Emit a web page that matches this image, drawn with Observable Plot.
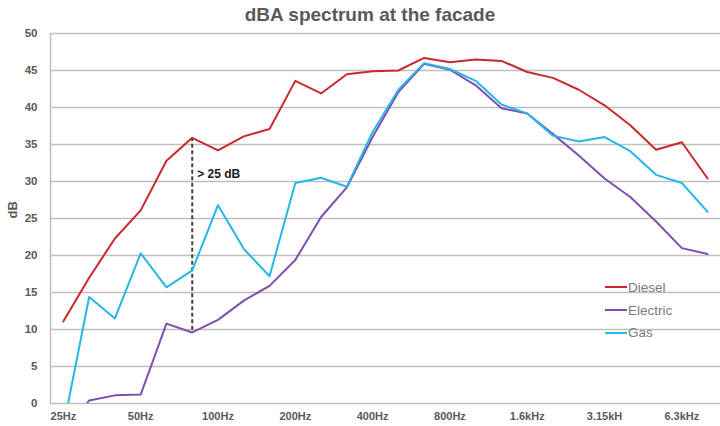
<!DOCTYPE html>
<html>
<head>
<meta charset="utf-8">
<script src="https://cdn.jsdelivr.net/npm/d3@7"></script>
<script src="https://cdn.jsdelivr.net/npm/@observablehq/plot@0.6"></script>
<style>
  body { margin: 0; background: #fff; font-family: "Liberation Sans", Arial, sans-serif; }
  #wrap { position: relative; width: 720px; height: 426px; }
  #title { position: absolute; left: 0; width: 740px; top: 4px; text-align: center; font-weight: bold; font-size: 19px; color: #595959; }
  #legend { position: absolute; left: 605px; top: 276px; font-size: 13.5px; color: #7a7a7a; }
  #legend div { display: flex; align-items: center; height: 22.7px; }
  #legend span.sw { display: inline-block; width: 22px; height: 2px; margin-right: 1px; }
</style>
</head>
<body>
<div id="wrap">
  <div id="title">dBA spectrum at the facade</div>
  <div id="chart"></div>
  <div id="legend"></div>
</div>
<script>
const bands = ["25","31.5","40","50","63","80","100","125","160","200","250","315","400","500","630","800","1000","1250","1600","2000","2500","3150","4000","5000","6300","8000"];
const tickLabels = ["25Hz","50Hz","100Hz","200Hz","400Hz","800Hz","1.6kHz","3.15kH","6.3kHz"];
const diesel = [11.1,17.0,22.3,26.1,32.8,35.9,34.2,36.1,37.1,43.6,41.9,44.5,44.9,45.0,46.7,46.1,46.5,46.3,44.8,44.0,42.4,40.3,37.6,34.3,35.3,30.4];
const electric = [-4.0,0.4,1.1,1.2,10.8,9.6,11.3,13.9,15.9,19.4,25.2,29.2,36.0,42.1,45.9,45.1,43.0,39.9,39.2,36.4,33.5,30.4,27.9,24.6,21.0,20.2];
const gas = [-3.2,14.4,11.5,20.3,15.7,18.0,26.8,20.9,17.2,29.8,30.5,29.3,36.7,42.4,46.0,45.2,43.6,40.4,39.2,36.2,35.4,36.0,34.1,30.9,29.8,25.9];
const seriesNames = ["Diesel","Electric","Gas"];
const seriesColors = ["#c8292c","#7f4fae","#25b6ea"];
const annotation = {band: 5, label: "> 25 dB", labelY: 31};

const seriesValues = [diesel, electric, gas];
const rows = [];
seriesNames.forEach((name, s) => seriesValues[s].forEach((v, i) => rows.push({series: name, i, v})));
const tickIdx = tickLabels.map((_, k) => k * 3);

const gridColor = "#bfbfbf";
const plot = Plot.plot({
  width: 720,
  height: 426,
  marginTop: 33,
  marginBottom: 23,
  marginLeft: 50,
  marginRight: 0,
  style: {fontFamily: "Liberation Sans, Arial, sans-serif", background: "#fff"},
  x: {type: "linear", domain: [-0.5, bands.length - 0.5]},
  y: {domain: [0, 50]},
  color: {domain: seriesNames, range: seriesColors},
  marks: [
    Plot.gridY(d3.range(0, 51, 5), {stroke: gridColor, strokeOpacity: 1, strokeWidth: 1.5}),
    Plot.ruleX([-0.5], {stroke: gridColor, strokeWidth: 1.5}),
    Plot.axisY(d3.range(0, 51, 5), {tickSize: 0, tickPadding: 13, fontSize: 11.5, fontWeight: "bold", fill: "#595959", label: null}),
    Plot.axisX(tickIdx, {tickSize: 0, tickPadding: 9, fontSize: 11, fontWeight: "bold", fill: "#595959", label: null,
      tickFormat: (d) => tickLabels[tickIdx.indexOf(d)]}),
    Plot.text(["dB"], {frameAnchor: "left", dx: -38, rotate: -90, fontSize: 13, fontWeight: "bold", fill: "#595959"}),
    Plot.ruleX([annotation.band], {y1: diesel[annotation.band], y2: electric[annotation.band], stroke: "#404040", strokeWidth: 2, strokeDasharray: "4,2.5"}),
    Plot.line(rows, {x: "i", y: "v", z: "series", stroke: "series", strokeWidth: 2, clip: true}),
    Plot.text([annotation.label], {x: annotation.band, y: annotation.labelY, dx: 5, textAnchor: "start", fontSize: 12, fontWeight: "bold", fill: "#1a1a1a"})
  ]
});
document.getElementById("chart").append(plot);

const legend = document.getElementById("legend");
seriesNames.forEach((name, s) => {
  const row = document.createElement("div");
  const sw = document.createElement("span");
  sw.className = "sw";
  sw.style.background = seriesColors[s];
  row.append(sw, document.createTextNode(name));
  legend.append(row);
});
</script>
</body>
</html>
